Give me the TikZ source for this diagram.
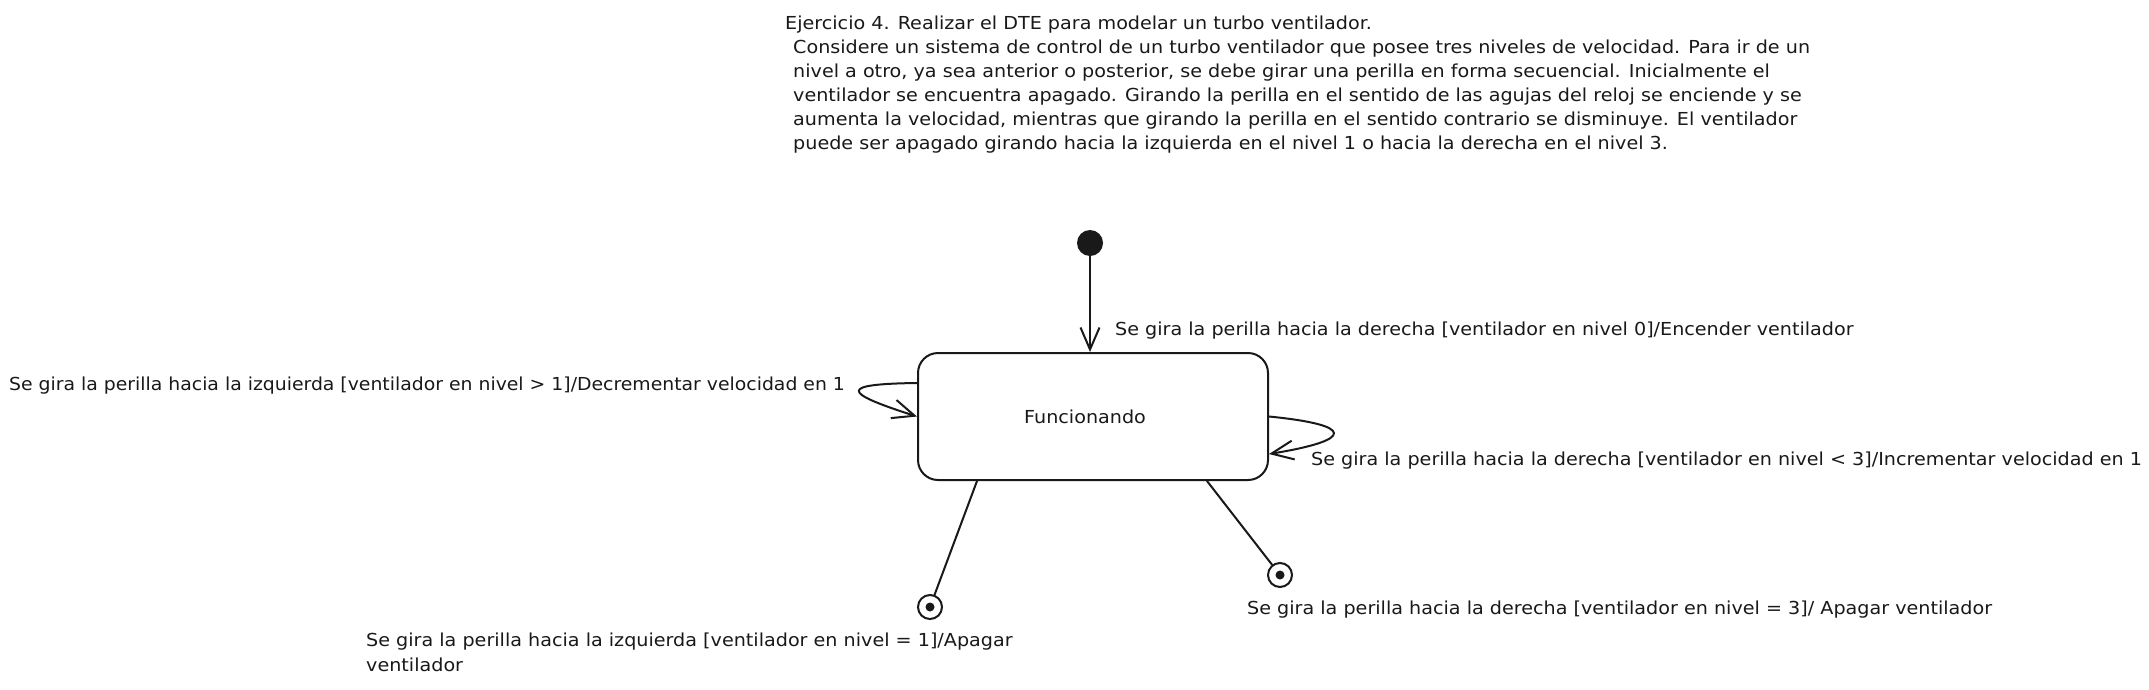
\documentclass[tikz,border=0pt]{standalone}
\usepackage{fontspec}
\setmainfont[FakeStretch=1.07]{DejaVu Sans}
\usetikzlibrary{arrows.meta}
\begin{document}
\begin{tikzpicture}[x=1pt,y=-1pt,
  every node/.style={font=\fontsize{17.9}{21}\selectfont, text=black!90},
  lbl/.style={anchor=base west, inner sep=0pt},
  ln/.style={line width=2pt, draw=black!90, line cap=round},
  arr/.style={ln, -{Straight Barb[length=22pt,width=19pt,line width=2pt]}},
  statebox/.style={draw=black!90, line width=2pt, rounded corners=20pt,
    minimum width=350pt, minimum height=127pt, inner sep=0pt},
  initst/.style={circle, fill=black!90, minimum size=26pt, inner sep=0pt},
  finst/.style={circle, draw=black!90, line width=2pt, minimum size=24pt, inner sep=0pt,
    path picture={\fill[black!90] (path picture bounding box.center) circle (4.5pt);}}
]
\useasboundingbox (0,0) rectangle (2149,689);
\fill[white] (0,0) rectangle (2149,689);

% title text
\node[lbl] (t1) at (785,29) {Ejercicio 4. Realizar el DTE para modelar un turbo ventilador.};
\node[lbl] (t2) at (793,53) {Considere un sistema de control de un turbo ventilador que posee tres niveles de velocidad. Para ir de un};
\node[lbl] (t3) at (793,77) {nivel a otro, ya sea anterior o posterior, se debe girar una perilla en forma secuencial. Inicialmente el};
\node[lbl] (t4) at (793,101) {ventilador se encuentra apagado. Girando la perilla en el sentido de las agujas del reloj se enciende y se};
\node[lbl] (t5) at (793,125) {aumenta la velocidad, mientras que girando la perilla en el sentido contrario se disminuye. El ventilador};
\node[lbl] (t6) at (793,149) {puede ser apagado girando hacia la izquierda en el nivel 1 o hacia la derecha en el nivel 3.};

% states
\node[initst] (init) at (1090,243) {};
\node[statebox] (box) at (1093,416.5) {\hspace*{-16pt}Funcionando};
\node[finst] (fin1) at (930,607) {};
\node[finst] (fin2) at (1280,575) {};

% transitions
\draw[arr] (init) -- (init |- box.north);
\draw[arr] ([yshift=33.5pt]box.west) .. controls (840,384) and (840,392) .. (box.west);
\draw[arr] (box.east) .. controls (1355,425) and (1355,440) .. ([yshift=-37.5pt]box.east);
\draw[ln] ([xshift=-116pt]box.south) -- (fin1);
\draw[ln] ([xshift=114pt]box.south) -- (fin2);

% labels
\node[lbl] (lTop) at (1115,335) {Se gira la perilla hacia la derecha [ventilador en nivel 0]/Encender ventilador};
\node[lbl] (lLeft) at (9,390) {\scalebox{0.983}[1]{Se gira la perilla hacia la izquierda [ventilador en nivel > 1]/Decrementar velocidad en 1}};
\node[lbl] (lRight) at (1311,465) {Se gira la perilla hacia la derecha [ventilador en nivel < 3]/Incrementar velocidad en 1};
\node[lbl] (lBR) at (1247,614) {Se gira la perilla hacia la derecha [ventilador en nivel = 3]/ Apagar ventilador};
\node[lbl] (lBL1) at (366,646) {Se gira la perilla hacia la izquierda [ventilador en nivel = 1]/Apagar};
\node[lbl] (lBL2) at (366,671) {ventilador};
\end{tikzpicture}
\end{document}
